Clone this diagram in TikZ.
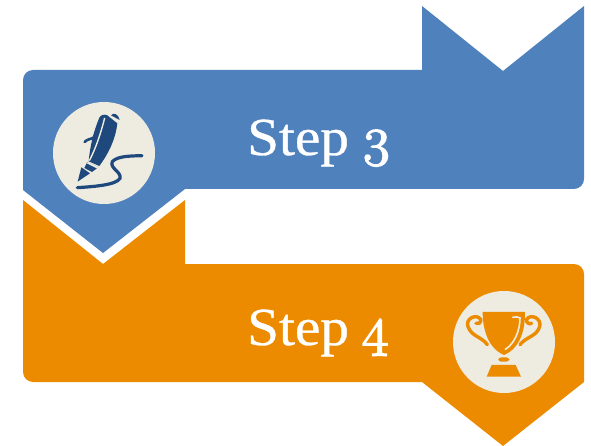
\documentclass[tikz,border=0pt]{standalone}
\usepackage{fontspec}
\setmainfont[FakeStretch=1.07,FakeBold=0.6]{Liberation Serif}
\newfontfamily\digitfont[Numbers=OldStyle,FakeBold=3,FakeStretch=1.05]{Latin Modern Roman}
\definecolor{stepblue}{HTML}{4F81BD}
\definecolor{steporange}{HTML}{EC8B00}
\definecolor{badge}{HTML}{EEECE1}
\definecolor{inkblue}{HTML}{1F497D}
\newcommand{\stepnum}[1]{\hspace{-2pt}{\digitfont\fontsize{54}{54}\selectfont #1}}
\tikzset{
  steplabel/.style={text=white,font=\fontsize{53.5}{54}\selectfont,inner sep=0pt,anchor=base west},
  badgedisc/.style={fill=badge,draw=none},
}
\begin{document}
\begin{tikzpicture}[x=1pt,y=-1pt]
\useasboundingbox (0,0) rectangle (591,446);
% blue arrow
\fill[stepblue] (422,6) -- (503,71) -- (584,6) -- (584,179)
  arc[start angle=0,end angle=90,radius=10] -- (185,189) -- (103,253) -- (23,190) -- (23,80)
  arc[start angle=180,end angle=270,radius=10] -- (422,70) -- cycle;
% orange arrow
\fill[steporange] (23,200) -- (103,264) -- (185,200) -- (185,264) -- (574,264)
  arc[start angle=-90,end angle=0,radius=10] -- (584,382) -- (503,446) -- (422,382) -- (33,382)
  arc[start angle=90,end angle=180,radius=10] -- cycle;
\fill[badgedisc] (104,153) circle[radius=51];
\fill[badgedisc] (504,342) circle[radius=51];
\node[steplabel] (s3) at (247,155) {Step \stepnum{3}};
\node[steplabel] (s4) at (247,345) {Step \stepnum{4}};
% pen
\begin{scope}[shift={(30,90)},x=0.3333pt,y=-0.3333pt]
  \fill[inkblue] (208,84) .. controls (212,74) and (222,72) .. (232,76) -- (262,100)
     .. controls (258,140) and (240,185) .. (208,228) -- (176,214)
     .. controls (180,170) and (190,125) .. (208,84) -- cycle;
  \fill[inkblue] (243,76) .. controls (250,66) and (266,72) .. (269,90) -- cycle;
  \fill[inkblue] (172,216) -- (205,232) -- (186,246) -- (163,234) -- cycle;
  \fill[inkblue] (154,232) -- (180,250) -- (143,275) -- cycle;
  \draw[badge,line width=1.6pt] (172,218) -- (204,234);
  \draw[badge,line width=1.4pt] (224,84) .. controls (215,120) and (200,170) .. (178,212);
  \draw[inkblue,line width=2.6pt,line cap=round] (212,84) .. controls (205,105) and (198,135) .. (192,142) .. controls (182,148) and (170,148) .. (164,156);
  \draw[inkblue,line width=3.2pt,line cap=round] (336,197) .. controls (300,198) and (262,198) .. (247,215)
     .. controls (238,235) and (275,245) .. (270,265)
     .. controls (260,285) and (190,290) .. (142,293);
\end{scope}
% trophy
\begin{scope}[shift={(440,280)},x=0.3333pt,y=-0.3333pt]
  \fill[steporange] (128,96) -- (255,96) .. controls (256,150) and (240,205) .. (192,225)
     .. controls (145,205) and (128,150) .. (128,96) -- cycle;
  \draw[badge,line width=1.6pt,line cap=round] (218,112) .. controls (226,110) and (236,110) .. (240,114)
     .. controls (240,150) and (225,190) .. (196,208);
  \draw[steporange,line width=3.4pt,line cap=round] (142,194) .. controls (125,170) and (95,170) .. (84,140)
     .. controls (75,115) and (110,100) .. (122,118) .. controls (124,128) and (115,134) .. (108,130);
  \draw[steporange,line width=3.4pt,line cap=round] (240,194) .. controls (258,170) and (290,170) .. (299,140)
     .. controls (306,115) and (272,100) .. (260,118) .. controls (258,128) and (268,134) .. (275,130);
  \fill[steporange,rounded corners=3pt] (175,232) rectangle (208,245);
  \fill[steporange] (155,255) -- (227,255) -- (243,290) -- (140,290) -- cycle;
\end{scope}
\end{tikzpicture}
\end{document}
